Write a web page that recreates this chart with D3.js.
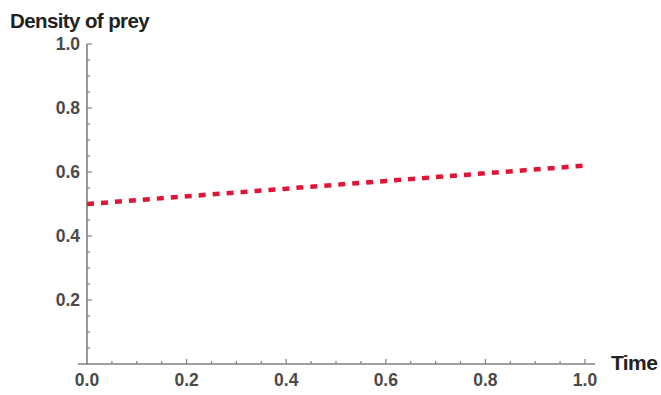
<!DOCTYPE html>
<html>
<head>
<meta charset="utf-8">
<script src="https://cdn.jsdelivr.net/npm/d3@7"></script>
<style>
  body { margin: 0; background: #fff; }
  svg { display: block; font-family: "Liberation Sans", Arial, sans-serif; }
</style>
</head>
<body>
<svg width="661" height="395"></svg>
<script>
var svg = d3.select("svg");

// prey density
var times = [0, 0.2, 0.4, 0.6, 0.8, 1.0];
var prey = [0.5, 0.524, 0.548, 0.572, 0.596, 0.62];
var xTicks = [0, 0.2, 0.4, 0.6, 0.8, 1.0];
var yTicks = [0.2, 0.4, 0.6, 0.8, 1.0];
var minorTicks = d3.range(0.05, 1.0001, 0.05);

var x = d3.scaleLinear().domain([0, 1]).range([87, 585]);
var y = d3.scaleLinear().domain([0, 1]).range([364, 44]);

var axisColor = "#808080";

// axis lines
svg.append("line")
    .attr("x1", 78).attr("x2", 595)
    .attr("y1", y(0)).attr("y2", y(0))
    .attr("stroke", axisColor).attr("stroke-width", 1.6);
svg.append("line")
    .attr("x1", x(0)).attr("x2", x(0))
    .attr("y1", y(0)).attr("y2", y(1))
    .attr("stroke", axisColor).attr("stroke-width", 1.6);

// ticks point inward
svg.append("g").selectAll("line")
    .data(minorTicks)
  .enter().append("line")
    .attr("x1", function(d) { return x(d); })
    .attr("x2", function(d) { return x(d); })
    .attr("y1", y(0))
    .attr("y2", function(d) { return y(0) - (Math.abs(d * 5 - Math.round(d * 5)) < 1e-6 ? 5 : 3); })
    .attr("stroke", axisColor).attr("stroke-width", 1.2);

svg.append("g").selectAll("line")
    .data(minorTicks)
  .enter().append("line")
    .attr("y1", function(d) { return y(d); })
    .attr("y2", function(d) { return y(d); })
    .attr("x1", x(0))
    .attr("x2", function(d) { return x(0) + (Math.abs(d * 5 - Math.round(d * 5)) < 1e-6 ? 5 : 3); })
    .attr("stroke", axisColor).attr("stroke-width", 1.2);

// tick labels
svg.append("g").selectAll("text")
    .data(xTicks)
  .enter().append("text")
    .attr("x", function(d) { return x(d); })
    .attr("y", 386)
    .attr("text-anchor", "middle")
    .attr("font-size", 17.5).attr("font-weight", "bold")
    .attr("fill", "#4a4a4a")
    .text(function(d) { return d.toFixed(1); });

svg.append("g").selectAll("text")
    .data(yTicks)
  .enter().append("text")
    .attr("x", x(0) - 7)
    .attr("y", function(d) { return y(d) + 6; })
    .attr("text-anchor", "end")
    .attr("font-size", 17.5).attr("font-weight", "bold")
    .attr("fill", "#4a4a4a")
    .text(function(d) { return d.toFixed(1); });

// axis titles
svg.append("text")
    .attr("x", 10).attr("y", 28)
    .attr("font-size", 20.5).attr("font-weight", "bold")
    .attr("fill", "#222")
    .attr("letter-spacing", -0.6)
    .text("Density of prey");

svg.append("text")
    .attr("x", 611).attr("y", 370)
    .attr("font-size", 21).attr("font-weight", "bold")
    .attr("fill", "#222")
    .attr("letter-spacing", -0.6)
    .text("Time");

// prey curve
var line = d3.line()
    .x(function(d, i) { return x(times[i]); })
    .y(function(d) { return y(d); })
    .curve(d3.curveMonotoneX);

svg.append("path")
    .datum(prey)
    .attr("d", line)
    .attr("fill", "none")
    .attr("stroke", "#e01535")
    .attr("stroke-width", 4.5)
    .attr("stroke-dasharray", "7,7");
</script>
</body>
</html>
